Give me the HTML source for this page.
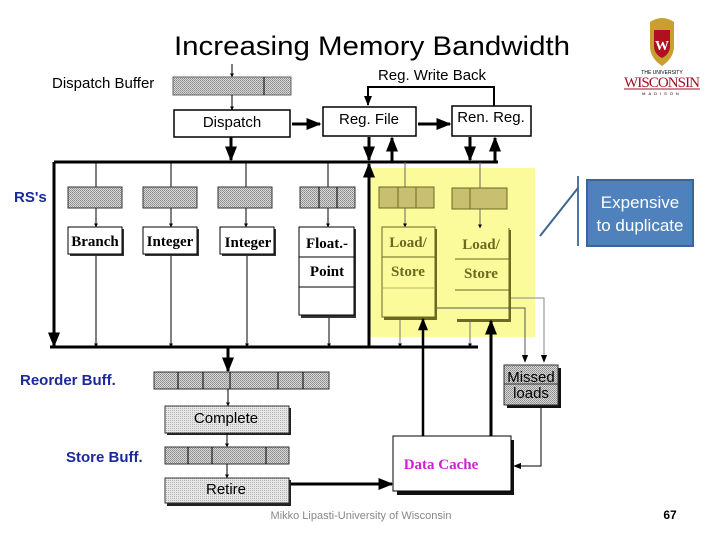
<!DOCTYPE html>
<html><head><style>body{margin:0;background:#fff}svg{display:block}</style></head><body>
<svg width="720" height="540" viewBox="0 0 720 540" xmlns="http://www.w3.org/2000/svg" font-family="Liberation Sans, sans-serif">
<defs>
<pattern id="g" width="2" height="2" patternUnits="userSpaceOnUse"><rect width="2" height="2" fill="#d8d8d8"/><rect width="1" height="1" fill="#8a8a8a"/><rect x="1" y="1" width="1" height="1" fill="#9a9a9a"/></pattern>
<pattern id="lg" width="2" height="2" patternUnits="userSpaceOnUse"><rect width="2" height="2" fill="#e8e8e8"/><rect width="1" height="1" fill="#b0b0b0"/></pattern>
<marker id="a" viewBox="0 0 10 10" refX="9" refY="5" markerWidth="4" markerHeight="4" orient="auto"><path d="M0,0L10,5L0,10z" fill="#000"/></marker>
<marker id="s" viewBox="0 0 10 10" refX="9" refY="5" markerWidth="5" markerHeight="5" orient="auto"><path d="M0,1L10,5L0,9z" fill="#000"/></marker>
<marker id="t" viewBox="0 0 10 10" refX="9" refY="5" markerWidth="8" markerHeight="8" orient="auto"><path d="M0,1L10,5L0,9z" fill="#000"/></marker>
</defs>
<text x="372" y="55" font-size="27" text-anchor="middle" font-family="Liberation Sans, sans-serif" textLength="396" lengthAdjust="spacingAndGlyphs">Increasing Memory Bandwidth</text>
<path d="M650,22 q12,-8 24,0 l0,24 q0,12 -12,20 q-12,-8 -12,-20z" fill="#c8a030"/>
<path d="M654,30 h16 v16 q0,8 -8,12 q-8,-4 -8,-12z" fill="#b01020"/>
<text x="662" y="50" font-size="14" fill="#fff" text-anchor="middle" font-family="Liberation Serif, serif" font-weight="bold">W</text>
<text x="662" y="74" font-size="5" text-anchor="middle">THE UNIVERSITY</text>
<text x="662" y="87" font-size="15" fill="#a01020" text-anchor="middle" font-family="Liberation Serif, serif" textLength="76">WISCONSIN</text>
<line x1="624" y1="89" x2="700" y2="89" stroke="#a01020"/>
<text x="662" y="95" font-size="4" text-anchor="middle" letter-spacing="3">MADISON</text>

<rect x="370" y="168" width="165" height="169" fill="#fbfb9c"/>

<text x="52" y="88" font-size="15">Dispatch Buffer</text>
<line x1="232" y1="64" x2="232" y2="77" stroke="#000" marker-end="url(#a)"/>
<rect x="173" y="77" width="118" height="18" fill="url(#g)" stroke="#666"/>
<line x1="264" y1="77" x2="264" y2="95" stroke="#000"/>
<line x1="232" y1="95" x2="232" y2="110" stroke="#000" marker-end="url(#a)"/>
<rect x="174" y="110" width="116" height="27" fill="#fff" stroke="#000" stroke-width="1.5"/>
<text x="232" y="127" font-size="15" text-anchor="middle">Dispatch</text>
<line x1="292" y1="124" x2="320" y2="124" stroke="#000" stroke-width="3" marker-end="url(#s)"/>
<rect x="323" y="107" width="93" height="29" fill="#fff" stroke="#000" stroke-width="1.5"/>
<text x="369" y="124" font-size="15" text-anchor="middle">Reg. File</text>
<line x1="418" y1="124" x2="450" y2="124" stroke="#000" stroke-width="3" marker-end="url(#s)"/>
<rect x="452" y="106" width="79" height="30" fill="#fff" stroke="#000" stroke-width="1.5"/>
<text x="491" y="122" font-size="15" text-anchor="middle">Ren. Reg.</text>
<text x="432" y="80" font-size="15" text-anchor="middle">Reg. Write Back</text>
<polyline points="494,106 494,87 368,87 368,105" fill="none" stroke="#000" stroke-width="2" marker-end="url(#s)"/>

<line x1="54" y1="162" x2="498" y2="162" stroke="#000" stroke-width="3"/>
<line x1="231" y1="137" x2="231" y2="160" stroke="#000" stroke-width="3" marker-end="url(#s)"/>
<line x1="369" y1="137" x2="369" y2="160" stroke="#000" stroke-width="3" marker-end="url(#s)"/>
<line x1="392" y1="162" x2="392" y2="138" stroke="#000" stroke-width="3" marker-end="url(#s)"/>
<line x1="470" y1="137" x2="470" y2="160" stroke="#000" stroke-width="3" marker-end="url(#s)"/>
<line x1="495" y1="162" x2="495" y2="138" stroke="#000" stroke-width="3" marker-end="url(#s)"/>
<line x1="54" y1="162" x2="54" y2="346" stroke="#000" stroke-width="3" marker-end="url(#s)"/>
<line x1="369" y1="347" x2="369" y2="164" stroke="#000" stroke-width="3" marker-end="url(#s)"/>

<text x="14" y="202" font-size="15" font-weight="bold" fill="#1a2a9a">RS's</text>
<g stroke="#000">
<line x1="96" y1="162" x2="96" y2="227" marker-end="url(#a)"/>
<line x1="171" y1="162" x2="171" y2="227" marker-end="url(#a)"/>
<line x1="246" y1="162" x2="246" y2="227" marker-end="url(#a)"/>
<line x1="328" y1="162" x2="328" y2="227" marker-end="url(#a)"/>
<line x1="405" y1="162" x2="405" y2="227" stroke="#666" marker-end="url(#a)"/>
<line x1="480" y1="162" x2="480" y2="228" stroke="#666" marker-end="url(#a)"/>
</g>
<g stroke="#333">
<rect x="68" y="187" width="54" height="21" fill="url(#g)"/>
<rect x="143" y="187" width="54" height="21" fill="url(#g)"/>
<rect x="218" y="187" width="54" height="21" fill="url(#g)"/>
<rect x="300" y="187" width="55" height="21" fill="url(#g)"/>
<rect x="379" y="187" width="55" height="21" fill="#c8c070" stroke="#6a6a20"/>
<rect x="452" y="188" width="55" height="21" fill="#c8c070" stroke="#6a6a20"/>
</g>
<g stroke="#000"><line x1="319" y1="187" x2="319" y2="208"/><line x1="337" y1="187" x2="337" y2="208"/>
<line x1="398" y1="187" x2="398" y2="208" stroke="#6a6a20"/><line x1="416" y1="187" x2="416" y2="208" stroke="#6a6a20"/>
<line x1="470" y1="188" x2="470" y2="209" stroke="#6a6a20"/></g>

<g font-family="Liberation Serif, serif" font-weight="bold" font-size="15" text-anchor="middle">
<rect x="70" y="229" width="54" height="27" fill="#333"/>
<rect x="68" y="227" width="54" height="27" fill="#fff" stroke="#000"/>
<text x="95" y="246">Branch</text>
<rect x="145" y="229" width="54" height="27" fill="#333"/>
<rect x="143" y="227" width="54" height="27" fill="#fff" stroke="#000"/>
<text x="170" y="246">Integer</text>
<rect x="222" y="229" width="54" height="27" fill="#333"/>
<rect x="220" y="227" width="54" height="27" fill="#fff" stroke="#000"/>
<text x="248" y="247">Integer</text>
<rect x="301" y="229" width="55" height="89" fill="#333"/>
<rect x="299" y="227" width="55" height="88" fill="#fff" stroke="#000"/>
<line x1="299" y1="257" x2="354" y2="257" stroke="#000"/><line x1="299" y1="287" x2="354" y2="287" stroke="#000"/>
<text x="327" y="248">Float.-</text><text x="327" y="276">Point</text>
<g fill="#6a6a20">
<rect x="384" y="229" width="53" height="91" fill="#6a6a20"/>
<rect x="382" y="227" width="53" height="90" fill="#fbfb9c" stroke="#6a6a20"/>
<line x1="382" y1="257" x2="435" y2="257" stroke="#6a6a20"/><line x1="382" y1="288" x2="435" y2="288" stroke="#b8b070"/>
<text x="408" y="247">Load/</text><text x="408" y="276">Store</text>
<rect x="457" y="230" width="54" height="92" fill="#6a6a20"/>
<rect x="455" y="228" width="54" height="91" fill="#fbfb9c" stroke="none"/>
<line x1="509" y1="228" x2="509" y2="319" stroke="#6a6a20"/>
<line x1="455" y1="259" x2="509" y2="259" stroke="#6a6a20"/><line x1="455" y1="290" x2="509" y2="290" stroke="#6a6a20"/>
<text x="481" y="249">Load/</text><text x="481" y="278">Store</text>
</g>
</g>

<g stroke="#000">
<line x1="96" y1="256" x2="96" y2="347" marker-end="url(#a)"/>
<line x1="171" y1="256" x2="171" y2="347" marker-end="url(#a)"/>
<line x1="247" y1="256" x2="247" y2="347" marker-end="url(#a)"/>
<line x1="329" y1="318" x2="329" y2="347" marker-end="url(#a)"/>
<line x1="400" y1="320" x2="400" y2="347" stroke="#777" marker-end="url(#a)"/>
<line x1="470" y1="322" x2="470" y2="347" stroke="#777" marker-end="url(#a)"/>
</g>
<line x1="50" y1="347" x2="478" y2="347" stroke="#000" stroke-width="3"/>
<polyline points="437,308 525,308 525,362" fill="none" stroke="#555" marker-end="url(#t)"/>
<polyline points="511,298 544,298 544,362" fill="none" stroke="#888" marker-end="url(#t)"/>

<rect x="507" y="368" width="54" height="40" fill="#111"/>
<rect x="504" y="365" width="54" height="40" fill="url(#g)" stroke="#333"/>
<line x1="504" y1="384" x2="558" y2="384" stroke="#333"/>
<text x="531" y="382" font-size="15" text-anchor="middle">Missed</text>
<text x="531" y="398" font-size="15" text-anchor="middle">loads</text>
<polyline points="541,408 541,466 514,466" fill="none" stroke="#000" marker-end="url(#t)"/>

<text x="20" y="385" font-size="15" font-weight="bold" fill="#1a2a9a">Reorder Buff.</text>
<line x1="228" y1="347" x2="228" y2="371" stroke="#000" stroke-width="3" marker-end="url(#s)"/>
<rect x="154" y="372" width="175" height="17" fill="url(#g)" stroke="#333"/>
<g stroke="#000"><line x1="178" y1="372" x2="178" y2="389"/><line x1="203" y1="372" x2="203" y2="389"/><line x1="230" y1="372" x2="230" y2="389"/><line x1="278" y1="372" x2="278" y2="389"/><line x1="303" y1="372" x2="303" y2="389"/></g>
<line x1="228" y1="389" x2="228" y2="406" stroke="#000" marker-end="url(#a)"/>
<rect x="167" y="408" width="124" height="27" fill="#222"/>
<rect x="165" y="406" width="124" height="27" fill="url(#lg)" stroke="#333"/>
<text x="226" y="423" font-size="15" text-anchor="middle">Complete</text>
<line x1="227" y1="433" x2="227" y2="447" stroke="#000" marker-end="url(#a)"/>
<text x="66" y="462" font-size="15" font-weight="bold" fill="#1a2a9a">Store Buff.</text>
<rect x="165" y="447" width="124" height="17" fill="url(#g)" stroke="#333"/>
<g stroke="#000"><line x1="188" y1="447" x2="188" y2="464"/><line x1="212" y1="447" x2="212" y2="464"/><line x1="266" y1="447" x2="266" y2="464"/></g>
<line x1="227" y1="464" x2="227" y2="478" stroke="#000" marker-end="url(#a)"/>
<rect x="167" y="480" width="124" height="26" fill="#222"/>
<rect x="165" y="478" width="124" height="25" fill="url(#lg)" stroke="#333"/>
<text x="226" y="494" font-size="15" text-anchor="middle">Retire</text>
<line x1="291" y1="484" x2="392" y2="484" stroke="#000" stroke-width="3" marker-end="url(#s)"/>

<rect x="397" y="440" width="117" height="55" fill="#111"/>
<rect x="393" y="436" width="118" height="55" fill="#fff" stroke="#000"/>
<text x="441" y="469" font-size="15" font-weight="bold" fill="#cc22cc" text-anchor="middle" font-family="Liberation Serif, serif">Data Cache</text>
<line x1="423" y1="436" x2="423" y2="319" stroke="#000" stroke-width="2.5" marker-end="url(#s)"/>
<line x1="491" y1="436" x2="491" y2="321" stroke="#000" stroke-width="3" marker-end="url(#s)"/>

<line x1="578" y1="176" x2="578" y2="246" stroke="#4a78ae" stroke-width="2"/>
<line x1="578" y1="188" x2="540" y2="236" stroke="#3d6691" stroke-width="2"/>
<rect x="587" y="180" width="106" height="66" fill="#4f81bd" stroke="#3a659a" stroke-width="2"/>
<text x="640" y="208" font-size="17" fill="#fff" text-anchor="middle">Expensive</text>
<text x="640" y="231" font-size="17" fill="#fff" text-anchor="middle">to duplicate</text>

<text x="361" y="519" font-size="11" fill="#888" text-anchor="middle">Mikko Lipasti-University of Wisconsin</text>
<text x="670" y="519" font-size="12" font-weight="bold" text-anchor="middle">67</text>
</svg>
</body></html>
